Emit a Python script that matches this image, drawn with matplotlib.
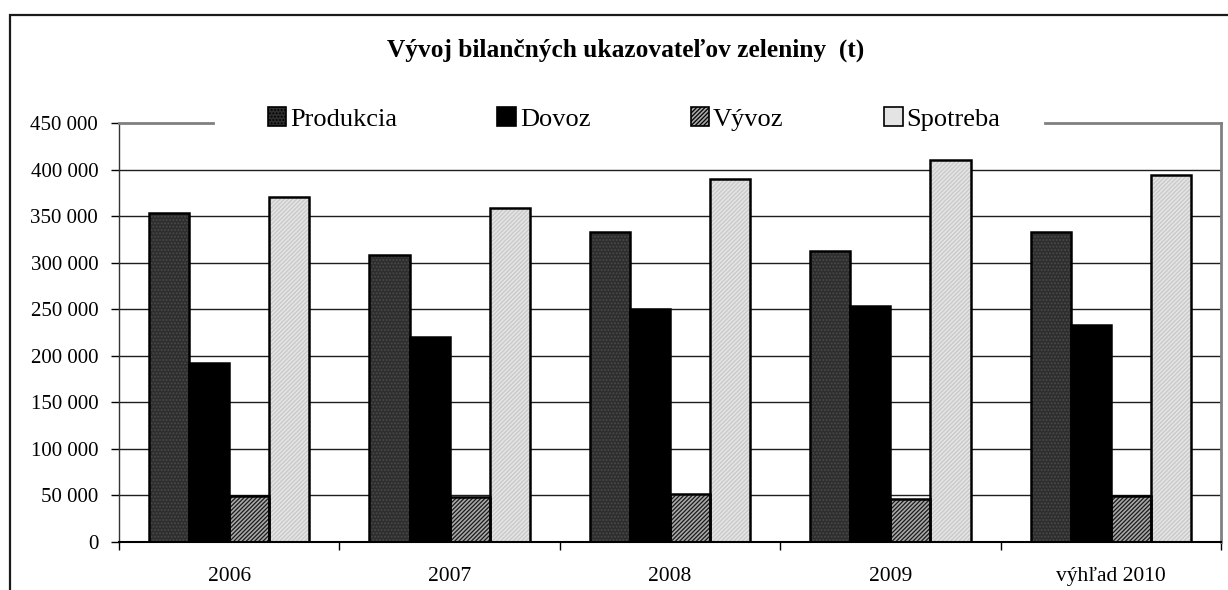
import matplotlib
matplotlib.use("Agg")
import matplotlib.pyplot as plt
import numpy as np
from matplotlib.patches import Patch, Rectangle
from matplotlib.lines import Line2D
from matplotlib.ticker import FuncFormatter, FixedLocator

plt.rcParams['font.family'] = ['Liberation Serif', 'DejaVu Serif']
plt.rcParams['hatch.linewidth'] = 0.9

categories = ['2006', '2007', '2008', '2009', 'výhľad 2010']
series_names = ['Produkcia', 'Dovoz', 'Vývoz', 'Spotreba']
produkcia = [353000, 308000, 333000, 312500, 332600]
dovoz = [192000, 220000, 250000, 253500, 233400]
vyvoz = [49400, 48700, 51200, 45800, 49800]
spotreba = [371000, 358400, 390000, 410000, 394000]
yticks = [0, 50000, 100000, 150000, 200000, 250000, 300000, 350000, 400000, 450000]
title = 'Vývoj bilančných ukazovateľov zeleniny  (t)'

series = [produkcia, dovoz, vyvoz, spotreba]
faces = ['#2e2e2e', '#000000', '#a8a8a8', '#e4e4e4']
hatches = ['.....', None, '////////', '////////']
hatch_cols = ['#4a4a4a', '#000000', '#1a1a1a', '#c8c8c8']

W, H = 1228, 590
fig = plt.figure(figsize=(W / 100, H / 100), dpi=100)
ax = fig.add_axes([119 / W, 1 - 542 / H, (1221 - 119) / W, (542 - 123) / H])

x = np.arange(len(categories))
bw = 1 / 5.5
for i, vals in enumerate(series):
    pos = x - 2 * bw + (i + 0.5) * bw
    # fill + pattern layer
    ax.bar(pos, vals, width=bw, color=faces[i], hatch=hatches[i],
           edgecolor=hatch_cols[i], linewidth=0, zorder=2)
    # outline layer
    ax.bar(pos, vals, width=bw, color='none', edgecolor='black',
           linewidth=1.8, zorder=3)

ax.set_xlim(-0.5, len(categories) - 0.5)
ax.set_ylim(0, 450000)

# gridlines (the top one is the plot border)
for yv in yticks[1:-1]:
    ax.axhline(yv, color='#1e1e1e', linewidth=1.0, zorder=1)

ax.yaxis.set_major_locator(FixedLocator(yticks))
ax.yaxis.set_major_formatter(FuncFormatter(lambda v, p: f'{int(v):,}'.replace(',', ' ')))
ax.tick_params(axis='y', direction='out', length=6, width=1, pad=9, labelsize=15, colors='black')

ax.xaxis.set_major_locator(FixedLocator(np.arange(len(categories) + 1) - 0.5))
ax.xaxis.set_major_formatter(FuncFormatter(lambda v, p: ''))
ax.xaxis.set_minor_locator(FixedLocator(x))
ax.set_xticklabels(categories, minor=True)
ax.tick_params(axis='x', which='major', direction='out', length=6, width=1)
ax.tick_params(axis='x', which='minor', length=0, pad=18, labelsize=15.5)

ax.spines['top'].set_visible(False)
ax.spines['right'].set_color('#808080')
ax.spines['right'].set_linewidth(2)
ax.spines['left'].set_color('#333333')
ax.spines['left'].set_linewidth(1)
ax.spines['bottom'].set_color('black')
ax.spines['bottom'].set_linewidth(1.5)

# top border interrupted by legend
x_gap0 = (213 - 119) / (1221 - 119)
x_gap1 = (1045 - 119) / (1221 - 119)
for a, b in [(0, x_gap0), (x_gap1, 1)]:
    ax.add_line(Line2D([a, b], [1, 1], transform=ax.transAxes, color='#808080',
                       linewidth=2, clip_on=False, zorder=5))

# outer chart frame (extends past right and bottom edges)
fig.add_artist(Rectangle((9.5 / W, -0.2), 2, 1.2 - 14.5 / H, transform=fig.transFigure,
                         fill=False, edgecolor='#1a1a1a', linewidth=1.6, clip_on=False))

# legend
handles = []
for i, name in enumerate(series_names):
    h = hatches[i] if i in (0, 2) else None
    handles.append(Patch(facecolor=faces[i], edgecolor='black', hatch=h, linewidth=1.2, label=name))
fig.legend(handles=handles, loc='center', bbox_to_anchor=(634 / W, 1 - 119 / H),
           ncol=4, frameon=False, fontsize=19, handlelength=0.7, handleheight=0.7,
           handletextpad=0.15, columnspacing=3.8, borderpad=0)

fig.text(626 / W, 1 - 50 / H, title, ha='center', va='center', fontsize=18.3, fontweight='bold')

fig.savefig('out.png', dpi=100)
